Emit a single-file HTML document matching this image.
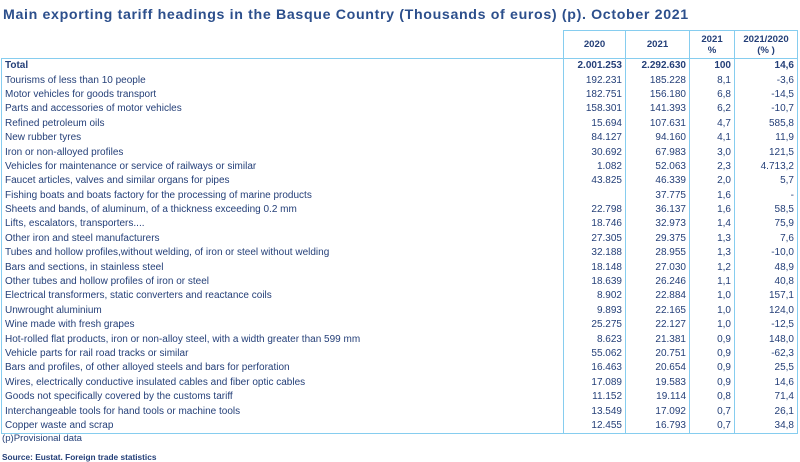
<!DOCTYPE html>
<html><head><meta charset="utf-8"><style>
body{margin:0;width:800px;height:460px;background:#fff;font-family:"Liberation Sans",sans-serif;color:#243f78;position:relative;overflow:hidden}
.title{position:absolute;left:3px;top:7px;font-size:14.2px;font-weight:bold;color:#2c4f8c;white-space:nowrap;letter-spacing:0.65px}
table{position:absolute;left:1px;top:30px;border-collapse:collapse;table-layout:fixed;font-size:10px}
td,th{padding:0 3px;height:14.4px;line-height:14px;white-space:nowrap;overflow:hidden}
tr{height:14.4px}
td{border-left:1.5px solid #86cdef;border-right:1.5px solid #86cdef}
td.n{text-align:right}
th{border:1.5px solid #86cdef;height:26px;line-height:11px;font-weight:bold;font-size:9.6px;text-align:center;color:#243f78}
th.e{border:none;border-bottom:1.5px solid #86cdef}
tr.t td{font-weight:bold}
tr.last td{border-bottom:1.5px solid #86cdef}
.f1{position:absolute;left:2px;top:433px;font-size:9.6px}
.f2{position:absolute;left:2px;top:452px;font-size:8.3px;font-weight:bold}
</style></head><body>
<div class="title">Main exporting tariff headings in the Basque Country (Thousands of euros) (p). October 2021</div>
<table>
<colgroup><col style="width:562px"><col style="width:62px"><col style="width:64px"><col style="width:45px"><col style="width:63px"></colgroup>
<tr style="height:28px"><th class="e"></th><th>2020</th><th>2021</th><th>2021<br>%</th><th>2021/2020<br>(% )</th></tr>
<tr class="t"><td>Total</td><td class="n">2.001.253</td><td class="n">2.292.630</td><td class="n">100</td><td class="n">14,6</td></tr>
<tr><td>Tourisms of less than 10 people</td><td class="n">192.231</td><td class="n">185.228</td><td class="n">8,1</td><td class="n">-3,6</td></tr>
<tr><td>Motor vehicles for goods transport</td><td class="n">182.751</td><td class="n">156.180</td><td class="n">6,8</td><td class="n">-14,5</td></tr>
<tr><td>Parts and accessories of motor vehicles</td><td class="n">158.301</td><td class="n">141.393</td><td class="n">6,2</td><td class="n">-10,7</td></tr>
<tr><td>Refined petroleum oils</td><td class="n">15.694</td><td class="n">107.631</td><td class="n">4,7</td><td class="n">585,8</td></tr>
<tr><td>New rubber tyres</td><td class="n">84.127</td><td class="n">94.160</td><td class="n">4,1</td><td class="n">11,9</td></tr>
<tr><td>Iron or non-alloyed profiles</td><td class="n">30.692</td><td class="n">67.983</td><td class="n">3,0</td><td class="n">121,5</td></tr>
<tr><td>Vehicles for maintenance or service of railways or similar</td><td class="n">1.082</td><td class="n">52.063</td><td class="n">2,3</td><td class="n">4.713,2</td></tr>
<tr><td>Faucet articles, valves and similar organs for pipes</td><td class="n">43.825</td><td class="n">46.339</td><td class="n">2,0</td><td class="n">5,7</td></tr>
<tr><td>Fishing boats and boats factory for the processing of marine products</td><td class="n"></td><td class="n">37.775</td><td class="n">1,6</td><td class="n">-</td></tr>
<tr><td>Sheets and bands, of aluminum, of a thickness exceeding 0.2 mm</td><td class="n">22.798</td><td class="n">36.137</td><td class="n">1,6</td><td class="n">58,5</td></tr>
<tr><td>Lifts, escalators, transporters....</td><td class="n">18.746</td><td class="n">32.973</td><td class="n">1,4</td><td class="n">75,9</td></tr>
<tr><td>Other iron and steel manufacturers</td><td class="n">27.305</td><td class="n">29.375</td><td class="n">1,3</td><td class="n">7,6</td></tr>
<tr><td>Tubes and hollow profiles,without welding, of iron or steel without welding</td><td class="n">32.188</td><td class="n">28.955</td><td class="n">1,3</td><td class="n">-10,0</td></tr>
<tr><td>Bars and sections, in stainless steel</td><td class="n">18.148</td><td class="n">27.030</td><td class="n">1,2</td><td class="n">48,9</td></tr>
<tr><td>Other tubes and hollow profiles of iron or steel</td><td class="n">18.639</td><td class="n">26.246</td><td class="n">1,1</td><td class="n">40,8</td></tr>
<tr><td>Electrical transformers, static converters and reactance coils</td><td class="n">8.902</td><td class="n">22.884</td><td class="n">1,0</td><td class="n">157,1</td></tr>
<tr><td>Unwrought aluminium</td><td class="n">9.893</td><td class="n">22.165</td><td class="n">1,0</td><td class="n">124,0</td></tr>
<tr><td>Wine made with fresh grapes</td><td class="n">25.275</td><td class="n">22.127</td><td class="n">1,0</td><td class="n">-12,5</td></tr>
<tr><td>Hot-rolled flat products, iron or non-alloy steel, with a width greater than 599 mm</td><td class="n">8.623</td><td class="n">21.381</td><td class="n">0,9</td><td class="n">148,0</td></tr>
<tr><td>Vehicle parts for rail road tracks or similar</td><td class="n">55.062</td><td class="n">20.751</td><td class="n">0,9</td><td class="n">-62,3</td></tr>
<tr><td>Bars and profiles, of other alloyed steels and bars for perforation</td><td class="n">16.463</td><td class="n">20.654</td><td class="n">0,9</td><td class="n">25,5</td></tr>
<tr><td>Wires, electrically conductive insulated cables and fiber optic cables</td><td class="n">17.089</td><td class="n">19.583</td><td class="n">0,9</td><td class="n">14,6</td></tr>
<tr><td>Goods not specifically covered by the customs tariff</td><td class="n">11.152</td><td class="n">19.114</td><td class="n">0,8</td><td class="n">71,4</td></tr>
<tr><td>Interchangeable tools for hand tools or machine tools</td><td class="n">13.549</td><td class="n">17.092</td><td class="n">0,7</td><td class="n">26,1</td></tr>
<tr class="last"><td>Copper waste and scrap</td><td class="n">12.455</td><td class="n">16.793</td><td class="n">0,7</td><td class="n">34,8</td></tr>
</table>
<div class="f1">(p)Provisional data</div>
<div class="f2">Source: Eustat. Foreign trade statistics</div>
</body></html>
